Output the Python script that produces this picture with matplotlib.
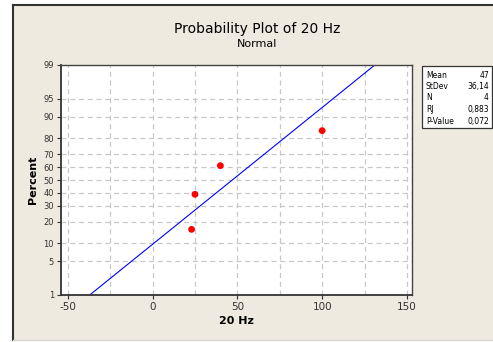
import matplotlib
matplotlib.use("Agg")
import matplotlib.pyplot as plt
from matplotlib.patches import Rectangle
from matplotlib.lines import Line2D
from statistics import NormalDist
import numpy as np

# sample values and their plotting positions (percent)
values = [23, 25, 40, 100]
percents = [15.9, 38.6, 61.4, 84.1]

# fitted normal
mean = 47
stdev = 36.14

stat_names = ["Mean", "StDev", "N", "RJ", "P-Value"]
stat_values = ["47", "36,14", "4", "0,883", "0,072"]

y_ticks = [1, 5, 10, 20, 30, 40, 50, 60, 70, 80, 90, 95, 99]
x_ticks = [-50, 0, 50, 100, 150]
x_grid = [-50, -25, 0, 25, 50, 75, 100, 125, 150]

nd = NormalDist()
def z(p):
    return nd.inv_cdf(p / 100.0)

W, H = 493, 342
fig = plt.figure(figsize=(W / 100, H / 100), dpi=100)
fig.patch.set_facecolor("white")

bg = "#eeeae0"
fig.patches.append(Rectangle((13 / W, 2 / H), 1 - 13 / W, (H - 5 - 2) / H,
                             transform=fig.transFigure, facecolor=bg,
                             edgecolor="none", zorder=-5))
fig.lines.append(Line2D([13 / W, 13 / W], [2 / H, 1 - 5 / H], transform=fig.transFigure,
                        color="#333333", lw=1.5, zorder=-4))
fig.lines.append(Line2D([13 / W, 1], [1 - 5 / H, 1 - 5 / H], transform=fig.transFigure,
                        color="#333333", lw=1.5, zorder=-4))
fig.lines.append(Line2D([13 / W, 1], [2 / H, 2 / H], transform=fig.transFigure,
                        color="#d8d6d0", lw=1, zorder=-4))

ax = fig.add_axes([61 / W, 1 - 295 / H, (412 - 61) / W, (295 - 65) / H])
ax.set_facecolor("white")

ax.set_xlim(-54, 153)
ax.set_ylim(z(1), z(99))

for g in x_grid:
    ax.axvline(g, color="#c8c8c8", lw=0.9, ls=(0, (4, 3)), zorder=1)
for p in y_ticks[1:-1]:
    ax.axhline(z(p), color="#c8c8c8", lw=0.9, ls=(0, (4, 3)), zorder=1)

# fitted line across the full percent range
zz = np.array([z(1), z(99)])
ax.plot(mean + stdev * zz, zz, color="#0000ff", lw=0.8, zorder=2)

ax.scatter(values, [z(p) for p in percents], s=24, color="#ff0000",
           edgecolors="none", zorder=3)

ax.set_yticks([z(p) for p in y_ticks])
ax.set_yticklabels([str(p) for p in y_ticks], fontsize=6, color="#333333")
ax.set_xticks(x_ticks)
ax.set_xticklabels([str(t) for t in x_ticks], fontsize=7.5, color="#333333")
ax.tick_params(direction="out", length=3, width=0.8, color="#333333", pad=2)

for s in ["top", "right"]:
    ax.spines[s].set_color("#444444")
    ax.spines[s].set_linewidth(1.0)
for s in ["left", "bottom"]:
    ax.spines[s].set_color("#333333")
    ax.spines[s].set_linewidth(1.3)

ax.set_ylabel("Percent", fontsize=8, fontweight="bold", labelpad=4)
ax.set_xlabel("20 Hz", fontsize=8, fontweight="bold", labelpad=3)

fig.text(257 / W, 1 - 29 / H, "Probability Plot of 20 Hz", ha="center", va="center",
         fontsize=10)
fig.text(257 / W, 1 - 44 / H, "Normal", ha="center", va="center", fontsize=8)

# statistics box
bx0, by0, bx1, by1 = 422, 66, 492, 128
fig.patches.append(Rectangle((bx0 / W, 1 - by1 / H), (bx1 - bx0) / W, (by1 - by0) / H,
                             transform=fig.transFigure, facecolor="white",
                             edgecolor="#333333", lw=0.9, zorder=2))
for i, (name, val) in enumerate(zip(stat_names, stat_values)):
    yy = 1 - (75 + i * 11.5) / H
    fig.text(426 / W, yy, name, ha="left", va="center", fontsize=5.5)
    fig.text(489 / W, yy, val, ha="right", va="center", fontsize=5.5)

fig.savefig("out.png", dpi=100, facecolor=fig.get_facecolor())
